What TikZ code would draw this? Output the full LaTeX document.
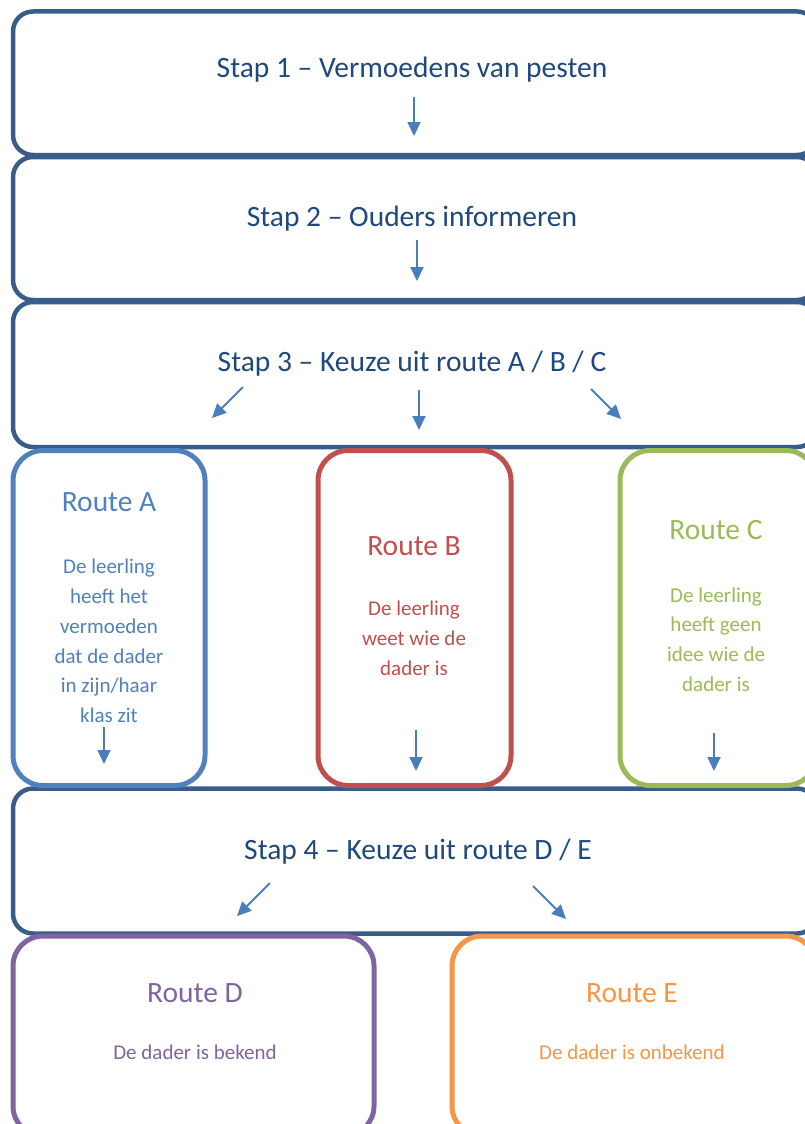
\documentclass[tikz,border=0pt]{standalone}
\usepackage{fontspec}
\setmainfont{Carlito}
\usetikzlibrary{arrows.meta}
\definecolor{mainblue}{HTML}{385D8A}
\definecolor{stapblue}{HTML}{1F497D}
\definecolor{arrowblue}{HTML}{4A7EBB}
\definecolor{colA}{HTML}{4F81BD}
\definecolor{colB}{HTML}{C0504D}
\definecolor{colC}{HTML}{9BBB59}
\definecolor{colD}{HTML}{8064A2}
\definecolor{colE}{HTML}{F79646}
\tikzset{
  stapbox/.style={draw=mainblue, line width=4.5pt, rounded corners=20pt, inner sep=0pt, fill=white},
  routebox/.style={line width=5pt, rounded corners=30pt, inner sep=0pt, fill=white},
  staptext/.style={text=stapblue, font=\fontsize{29.5}{34}\selectfont, inner sep=0pt},
  rtitle/.style={font=\fontsize{29.5}{34}\selectfont, inner sep=0pt},
  rbody/.style={font=\fontsize{21}{29.8}\selectfont, align=center, inner sep=0pt},
  flowarrow/.style={draw=arrowblue, line width=1.8pt, -{Triangle[width=13pt,length=14pt]}}
}
\begin{document}
\begin{tikzpicture}[x=1pt,y=-1pt]
\useasboundingbox (0,0) rectangle (805,1124);
\clip (0,0) rectangle (805,1124);
\fill[white] (0,0) rectangle (805,1124);
% main boxes
\node[stapbox, minimum width=804pt, minimum height=143.5pt] (s1) at (415,83.25) {};
\node[stapbox, minimum width=804pt, minimum height=143pt] (s2) at (415,228.5) {};
\node[stapbox, minimum width=804pt, minimum height=145pt] (s3) at (415,374.5) {};
\node[stapbox, minimum width=804pt, minimum height=145pt] (s4) at (415,861) {};
% route boxes
\node[routebox, draw=colA, minimum width=192pt, minimum height=335pt] (rA) at (109,618) {};
\node[routebox, draw=colB, minimum width=193pt, minimum height=335pt] (rB) at (414.5,618) {};
\node[routebox, draw=colC, minimum width=196pt, minimum height=335pt] (rC) at (718,618) {};
\node[routebox, draw=colD, minimum width=361pt, minimum height=200pt] (rD) at (193.5,1036) {};
\node[routebox, draw=colE, minimum width=364pt, minimum height=200pt] (rE) at (634,1036) {};
% texts
\node[staptext] (t1) at (412,70) {Stap 1 – Vermoedens van pesten};
\node[staptext] (t2) at (412,219) {Stap 2 – Ouders informeren};
\node[staptext] (t3) at (412,364) {Stap 3 – Keuze uit route A / B / C};
\node[staptext] (t4) at (418,852) {Stap 4 – Keuze uit route D / E};
\node[rtitle, text=colA] (tA) at (109,502) {Route A};
\node[rbody, text=colA] (bA) at (109,641) {De leerling\\heeft het\\vermoeden\\dat de dader\\in zijn/haar\\klas zit};
\node[rtitle, text=colB] (tB) at (414,546) {Route B};
\node[rbody, text=colB] (bB) at (414,638.5) {De leerling\\weet wie de\\dader is};
\node[rtitle, text=colC] (tC) at (716,530) {Route C};
\node[rbody, text=colC] (bC) at (716,639.5) {De leerling\\heeft geen\\idee wie de\\dader is};
\node[rtitle, text=colD] (tD) at (195,993) {Route D};
\node[rbody, text=colD] (bD) at (195,1052) {De dader is bekend};
\node[rtitle, text=colE] (tE) at (632,993) {Route E};
\node[rbody, text=colE] (bE) at (632,1052) {De dader is onbekend};
% arrow coordinates
\coordinate (a1s) at (414,97); \coordinate (a1e) at (414,136);
\coordinate (a2s) at (417,240); \coordinate (a2e) at (417,281);
\coordinate (a3ls) at (243,387); \coordinate (a3le) at (212,418);
\coordinate (a3ms) at (419,390); \coordinate (a3me) at (419,430);
\coordinate (a3rs) at (591,389); \coordinate (a3re) at (621,419);
\coordinate (aAs) at (104,727); \coordinate (aAe) at (104,764);
\coordinate (aBs) at (416,730); \coordinate (aBe) at (416,771);
\coordinate (aCs) at (714,733); \coordinate (aCe) at (714,771);
\coordinate (a4ls) at (270,883); \coordinate (a4le) at (237,916);
\coordinate (a4rs) at (533,886); \coordinate (a4re) at (566,919);
\draw[flowarrow] (a1s) -- (a1e);
\draw[flowarrow] (a2s) -- (a2e);
\draw[flowarrow] (a3ls) -- (a3le);
\draw[flowarrow] (a3ms) -- (a3me);
\draw[flowarrow] (a3rs) -- (a3re);
\draw[flowarrow] (aAs) -- (aAe);
\draw[flowarrow] (aBs) -- (aBe);
\draw[flowarrow] (aCs) -- (aCe);
\draw[flowarrow] (a4ls) -- (a4le);
\draw[flowarrow] (a4rs) -- (a4re);
\end{tikzpicture}
\end{document}
